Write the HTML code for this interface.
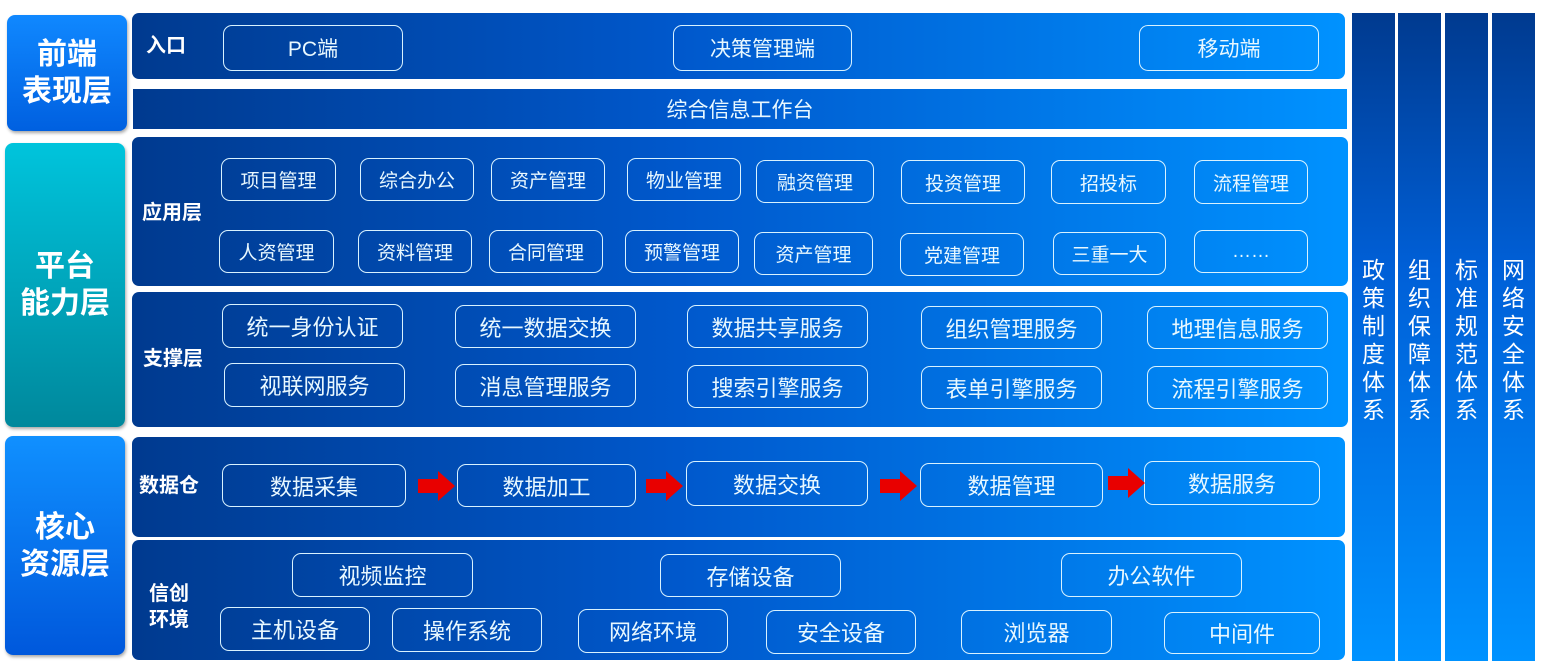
<!DOCTYPE html>
<html><head><meta charset="utf-8"><style>
*{margin:0;padding:0;box-sizing:border-box}
body{width:1543px;height:669px;background:#fff;position:relative;overflow:hidden;font-family:"Liberation Sans","Noto Sans CJK SC",sans-serif;color:#fff}
.a{position:absolute}
.p{position:absolute;background:linear-gradient(90deg,#003a8f 0%,#0058cc 45%,#0092ff 100%);border-radius:7px}
.b{position:absolute;border:1.5px solid #d8f2ff;border-radius:9px;display:flex;align-items:center;justify-content:center;font-size:20px;color:#e8f8ff;white-space:nowrap}
.l{position:absolute;font-weight:bold;font-size:20px;line-height:26px;color:#fff}
.L{position:absolute;border-radius:8px;display:flex;align-items:center;justify-content:center;text-align:center;font-weight:bold;font-size:30px;line-height:37px;box-shadow:1px 2px 3px rgba(0,0,0,.35)}
.c{position:absolute;top:13px;height:648px;width:43px;background:linear-gradient(180deg,#003a8f 0%,#0060d8 40%,#0092ff 100%);font-size:23px;line-height:28px;text-align:center;padding-top:243px}
</style></head><body>
<div class="L" style="left:7px;top:15px;width:120px;height:116px;background:linear-gradient(180deg,#1088ff,#0060e0)">前端<br>表现层</div>
<div class="L" style="left:5px;top:143px;width:120px;height:284px;background:linear-gradient(180deg,#00c4dc,#00889c)">平台<br>能力层</div>
<div class="L" style="left:5px;top:436px;width:120px;height:219px;background:linear-gradient(180deg,#1090ff,#0058dc)">核心<br>资源层</div>

<div class="p" style="left:132px;top:13px;width:1213px;height:66px"></div>
<div class="l" style="left:146px;top:33px">入口</div>
<div class="b" style="left:223px;top:25px;width:180px;height:46px;font-size:21px">PC端</div>
<div class="b" style="left:673px;top:25px;width:179px;height:46px;font-size:21px">决策管理端</div>
<div class="b" style="left:1139px;top:25px;width:180px;height:46px;font-size:21px">移动端</div>

<div class="p" style="left:133px;top:89px;width:1214px;height:40px;border-radius:0;display:flex;align-items:center;justify-content:center;font-size:21px;color:#e8f8ff">综合信息工作台</div>

<div class="p" style="left:132px;top:137px;width:1216px;height:149px"></div>
<div class="l" style="left:142px;top:200px">应用层</div>
<div class="b" style="left:221px;top:158px;width:115px;height:43px;font-size:19px">项目管理</div>
<div class="b" style="left:360px;top:158px;width:114px;height:43px;font-size:19px">综合办公</div>
<div class="b" style="left:491px;top:158px;width:114px;height:43px;font-size:19px">资产管理</div>
<div class="b" style="left:627px;top:158px;width:114px;height:43px;font-size:19px">物业管理</div>
<div class="b" style="left:756px;top:160px;width:118px;height:43px;font-size:19px">融资管理</div>
<div class="b" style="left:901px;top:160px;width:124px;height:44px;font-size:19px">投资管理</div>
<div class="b" style="left:1051px;top:160px;width:115px;height:44px;font-size:19px">招投标</div>
<div class="b" style="left:1194px;top:160px;width:114px;height:44px;font-size:19px">流程管理</div>
<div class="b" style="left:219px;top:230px;width:115px;height:43px;font-size:19px">人资管理</div>
<div class="b" style="left:358px;top:230px;width:114px;height:43px;font-size:19px">资料管理</div>
<div class="b" style="left:489px;top:230px;width:114px;height:43px;font-size:19px">合同管理</div>
<div class="b" style="left:625px;top:230px;width:114px;height:43px;font-size:19px">预警管理</div>
<div class="b" style="left:754px;top:232px;width:119px;height:43px;font-size:19px">资产管理</div>
<div class="b" style="left:900px;top:233px;width:124px;height:43px;font-size:19px">党建管理</div>
<div class="b" style="left:1053px;top:232px;width:113px;height:43px;font-size:19px">三重一大</div>
<div class="b" style="left:1194px;top:230px;width:114px;height:43px;font-size:19px">……</div>

<div class="p" style="left:132px;top:292px;width:1216px;height:135px"></div>
<div class="l" style="left:143px;top:346px">支撑层</div>
<div class="b" style="left:222px;top:304px;width:181px;height:44px;font-size:22px">统一身份认证</div>
<div class="b" style="left:455px;top:305px;width:181px;height:43px;font-size:22px">统一数据交换</div>
<div class="b" style="left:687px;top:305px;width:181px;height:43px;font-size:22px">数据共享服务</div>
<div class="b" style="left:921px;top:306px;width:181px;height:43px;font-size:22px">组织管理服务</div>
<div class="b" style="left:1147px;top:306px;width:181px;height:43px;font-size:22px">地理信息服务</div>
<div class="b" style="left:224px;top:363px;width:181px;height:44px;font-size:22px">视联网服务</div>
<div class="b" style="left:455px;top:364px;width:181px;height:43px;font-size:22px">消息管理服务</div>
<div class="b" style="left:687px;top:365px;width:181px;height:43px;font-size:22px">搜索引擎服务</div>
<div class="b" style="left:921px;top:366px;width:181px;height:43px;font-size:22px">表单引擎服务</div>
<div class="b" style="left:1147px;top:366px;width:181px;height:43px;font-size:22px">流程引擎服务</div>

<div class="p" style="left:132px;top:437px;width:1213px;height:100px"></div>
<div class="l" style="left:139px;top:473px">数据仓</div>
<div class="b" style="left:222px;top:464px;width:184px;height:43px;font-size:22px">数据采集</div>
<div class="b" style="left:457px;top:464px;width:179px;height:43px;font-size:22px">数据加工</div>
<div class="b" style="left:686px;top:461px;width:182px;height:45px;font-size:22px">数据交换</div>
<div class="b" style="left:920px;top:463px;width:183px;height:44px;font-size:22px">数据管理</div>
<div class="b" style="left:1144px;top:461px;width:176px;height:44px;font-size:22px">数据服务</div>
<svg class="a" style="left:0;top:0" width="1543" height="669">
<g fill="#e80000">
<path d="M418 479h20v-8l17 15-17 15v-8h-20z"/>
<path d="M646 479h20v-8l17 15-17 15v-8h-20z"/>
<path d="M880 479h20v-8l17 15-17 15v-8h-20z"/>
<path d="M1108 476h20v-8l17 15-17 15v-8h-20z"/>
</g></svg>

<div class="p" style="left:132px;top:540px;width:1213px;height:120px"></div>
<div class="l" style="left:149px;top:581px">信创<br>环境</div>
<div class="b" style="left:292px;top:553px;width:181px;height:44px;font-size:22px">视频监控</div>
<div class="b" style="left:660px;top:554px;width:181px;height:43px;font-size:22px">存储设备</div>
<div class="b" style="left:1061px;top:553px;width:181px;height:44px;font-size:22px">办公软件</div>
<div class="b" style="left:220px;top:607px;width:150px;height:44px;font-size:22px">主机设备</div>
<div class="b" style="left:392px;top:608px;width:150px;height:44px;font-size:22px">操作系统</div>
<div class="b" style="left:578px;top:609px;width:150px;height:44px;font-size:22px">网络环境</div>
<div class="b" style="left:766px;top:610px;width:150px;height:44px;font-size:22px">安全设备</div>
<div class="b" style="left:961px;top:610px;width:151px;height:44px;font-size:22px">浏览器</div>
<div class="b" style="left:1164px;top:612px;width:156px;height:42px;font-size:22px">中间件</div>

<div class="c" style="left:1352px">政<br>策<br>制<br>度<br>体<br>系</div>
<div class="c" style="left:1398px">组<br>织<br>保<br>障<br>体<br>系</div>
<div class="c" style="left:1445px">标<br>准<br>规<br>范<br>体<br>系</div>
<div class="c" style="left:1492px">网<br>络<br>安<br>全<br>体<br>系</div>
</body></html>
